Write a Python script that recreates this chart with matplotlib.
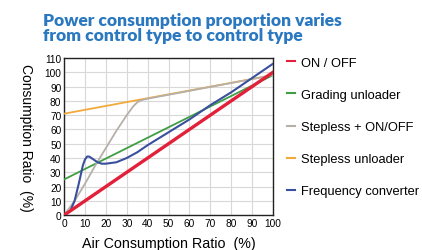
import matplotlib
matplotlib.use("Agg")
import matplotlib.pyplot as plt

plt.rcParams['font.family'] = ['Liberation Sans', 'DejaVu Sans']

title = "Power consumption proportion varies\nfrom control type to control type"
x_label = "Air Consumption Ratio  (%)"
y_label = "Consumption Ratio  (%)"

onoff_x = [0, 100]
onoff_y = [0, 100]

grading_x = [0, 100]
grading_y = [25, 98]

stepless_onoff_x = [0, 5, 10, 15, 20, 25, 30, 33, 35, 37, 40, 100]
stepless_onoff_y = [0, 10, 22, 35, 47, 59, 70, 76, 79, 80.5, 81.5, 98]

stepless_x = [0, 35, 100]
stepless_y = [71, 80.5, 98]

freq_x = [0, 3, 5, 7, 9, 10, 11, 12, 14, 16, 18, 20, 25, 30, 35, 40, 50, 60, 70, 80, 90, 100]
freq_y = [0, 3, 10, 22, 35, 39, 41, 41, 39, 37, 36, 36, 37, 40, 44, 49, 58, 67, 77, 86, 96, 106]

x_ticks = list(range(0, 101, 10))
y_ticks = list(range(0, 111, 10))

fig = plt.figure(figsize=(4.22, 2.51), dpi=100)
ax = fig.add_axes([0.152, 0.139, 0.495, 0.626])

l_stepless, = ax.plot(stepless_x, stepless_y, color='#f2a93b', lw=1.3, label='Stepless unloader', zorder=3)
l_grading, = ax.plot(grading_x, grading_y, color='#3f9e44', lw=1.3, label='Grading unloader', zorder=3)
l_sonoff, = ax.plot(stepless_onoff_x, stepless_onoff_y, color='#b5b0a8', lw=1.3, label='Stepless + ON/OFF', zorder=4)
l_freq, = ax.plot(freq_x, freq_y, color='#3a4f9e', lw=1.5, label='Frequency converter', zorder=5)
l_onoff, = ax.plot(onoff_x, onoff_y, color='#e2203a', lw=2.4, label='ON / OFF', zorder=6)

ax.set_xlim(0, 100)
ax.set_ylim(0, 110)
ax.set_xticks(x_ticks)
ax.set_yticks(y_ticks)
ax.tick_params(length=0, labelsize=7.3, pad=2)
ax.grid(True, color='#d8d8d8', lw=0.8)
ax.set_axisbelow(True)
for s in ax.spines.values():
    s.set_color('#222222')
    s.set_linewidth(1.0)

ax.set_xlabel(x_label, fontsize=10.3, labelpad=6)
ax.set_ylabel(y_label, fontsize=10, rotation=270, labelpad=12)
ax.yaxis.set_label_coords(-0.215, 0.5)

fig.text(0.102, 0.95, title, color='#2a78c0', fontsize=12.5, fontweight='heavy',
         va='top', ha='left', linespacing=0.92, family=['Lato', 'DejaVu Sans'])

handles = [l_onoff, l_grading, l_sonoff, l_stepless, l_freq]
leg = fig.legend(handles=handles, labels=[h.get_label() for h in handles],
                 loc='upper left', bbox_to_anchor=(0.668, 0.79), frameon=False,
                 fontsize=9.3, handlelength=0.6, handletextpad=0.5, labelspacing=1.55,
                 borderaxespad=0)
for lh in leg.get_lines():
    lh.set_linewidth(1.5)

fig.savefig('out.png', dpi=100, facecolor='white')
